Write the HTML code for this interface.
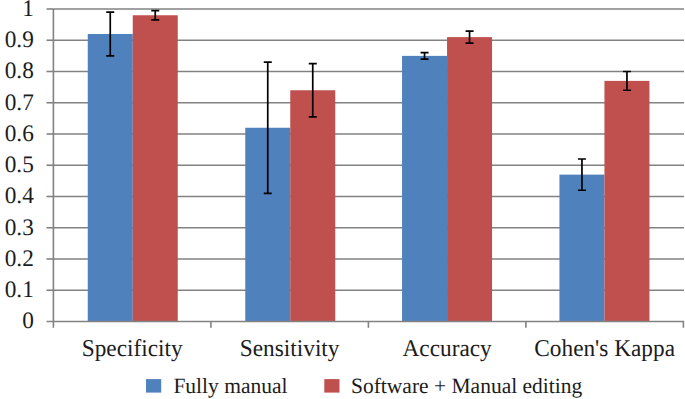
<!DOCTYPE html><html><head><meta charset="utf-8"><style>html,body{margin:0;padding:0;background:#fff}svg{display:block}text{font-family:"Liberation Serif",serif;fill:#1c1c1c;text-rendering:geometricPrecision}</style></head><body>
<svg width="685" height="399" viewBox="0 0 685 399">
<rect width="685" height="399" fill="#fff"/>
<line x1="53.40" x2="684.00" y1="290.25" y2="290.25" stroke="#828282" stroke-width="1.6"/>
<line x1="53.40" x2="684.00" y1="259.00" y2="259.00" stroke="#828282" stroke-width="1.6"/>
<line x1="53.40" x2="684.00" y1="227.75" y2="227.75" stroke="#828282" stroke-width="1.6"/>
<line x1="53.40" x2="684.00" y1="196.50" y2="196.50" stroke="#828282" stroke-width="1.6"/>
<line x1="53.40" x2="684.00" y1="165.25" y2="165.25" stroke="#828282" stroke-width="1.6"/>
<line x1="53.40" x2="684.00" y1="134.00" y2="134.00" stroke="#828282" stroke-width="1.6"/>
<line x1="53.40" x2="684.00" y1="102.75" y2="102.75" stroke="#828282" stroke-width="1.6"/>
<line x1="53.40" x2="684.00" y1="71.50" y2="71.50" stroke="#828282" stroke-width="1.6"/>
<line x1="53.40" x2="684.00" y1="40.25" y2="40.25" stroke="#828282" stroke-width="1.6"/>
<line x1="53.40" x2="684.00" y1="9.00" y2="9.00" stroke="#828282" stroke-width="1.6"/>
<rect x="87.75" y="34.00" width="45.00" height="287.50" fill="#4F81BD"/>
<rect x="132.75" y="15.25" width="45.00" height="306.25" fill="#C0504D"/>
<rect x="245.25" y="127.75" width="45.00" height="193.75" fill="#4F81BD"/>
<rect x="290.25" y="90.25" width="45.00" height="231.25" fill="#C0504D"/>
<rect x="402.05" y="55.88" width="45.00" height="265.62" fill="#4F81BD"/>
<rect x="447.05" y="37.12" width="45.00" height="284.38" fill="#C0504D"/>
<rect x="559.45" y="174.62" width="45.00" height="146.88" fill="#4F81BD"/>
<rect x="604.45" y="80.88" width="45.00" height="240.62" fill="#C0504D"/>
<line x1="46.50" x2="684.00" y1="321.50" y2="321.50" stroke="#828282" stroke-width="1.6"/>
<line x1="53.40" x2="53.40" y1="9.00" y2="327.80" stroke="#828282" stroke-width="1.6"/>
<line x1="46.50" x2="53.40" y1="290.25" y2="290.25" stroke="#828282" stroke-width="1.6"/>
<line x1="46.50" x2="53.40" y1="259.00" y2="259.00" stroke="#828282" stroke-width="1.6"/>
<line x1="46.50" x2="53.40" y1="227.75" y2="227.75" stroke="#828282" stroke-width="1.6"/>
<line x1="46.50" x2="53.40" y1="196.50" y2="196.50" stroke="#828282" stroke-width="1.6"/>
<line x1="46.50" x2="53.40" y1="165.25" y2="165.25" stroke="#828282" stroke-width="1.6"/>
<line x1="46.50" x2="53.40" y1="134.00" y2="134.00" stroke="#828282" stroke-width="1.6"/>
<line x1="46.50" x2="53.40" y1="102.75" y2="102.75" stroke="#828282" stroke-width="1.6"/>
<line x1="46.50" x2="53.40" y1="71.50" y2="71.50" stroke="#828282" stroke-width="1.6"/>
<line x1="46.50" x2="53.40" y1="40.25" y2="40.25" stroke="#828282" stroke-width="1.6"/>
<line x1="46.50" x2="53.40" y1="9.00" y2="9.00" stroke="#828282" stroke-width="1.6"/>
<line x1="210.90" x2="210.90" y1="321.50" y2="327.80" stroke="#828282" stroke-width="1.6"/>
<line x1="368.40" x2="368.40" y1="321.50" y2="327.80" stroke="#828282" stroke-width="1.6"/>
<line x1="525.90" x2="525.90" y1="321.50" y2="327.80" stroke="#828282" stroke-width="1.6"/>
<line x1="683.40" x2="683.40" y1="321.50" y2="327.80" stroke="#828282" stroke-width="1.6"/>
<path d="M110.25 12.12V55.88M106.25 12.12h8M106.25 55.88h8" stroke="#000" stroke-width="1.7" fill="none"/>
<path d="M155.25 10.56V19.94M151.25 10.56h8M151.25 19.94h8" stroke="#000" stroke-width="1.7" fill="none"/>
<path d="M267.75 62.12V193.38M263.75 62.12h8M263.75 193.38h8" stroke="#000" stroke-width="1.7" fill="none"/>
<path d="M312.75 63.69V116.81M308.75 63.69h8M308.75 116.81h8" stroke="#000" stroke-width="1.7" fill="none"/>
<path d="M424.55 52.59V59.16M420.55 52.59h8M420.55 59.16h8" stroke="#000" stroke-width="1.7" fill="none"/>
<path d="M469.55 31.03V43.22M465.55 31.03h8M465.55 43.22h8" stroke="#000" stroke-width="1.7" fill="none"/>
<path d="M581.95 159.00V190.25M577.95 159.00h8M577.95 190.25h8" stroke="#000" stroke-width="1.7" fill="none"/>
<path d="M626.95 71.50V90.25M622.95 71.50h8M622.95 90.25h8" stroke="#000" stroke-width="1.7" fill="none"/>
<text transform="translate(33.8 328.30) scale(1 1.02)" font-size="23.3" text-anchor="end">0</text>
<text transform="translate(33.8 297.05) scale(1 1.02)" font-size="23.3" text-anchor="end">0.1</text>
<text transform="translate(33.8 265.80) scale(1 1.02)" font-size="23.3" text-anchor="end">0.2</text>
<text transform="translate(33.8 234.55) scale(1 1.02)" font-size="23.3" text-anchor="end">0.3</text>
<text transform="translate(33.8 203.30) scale(1 1.02)" font-size="23.3" text-anchor="end">0.4</text>
<text transform="translate(33.8 172.05) scale(1 1.02)" font-size="23.3" text-anchor="end">0.5</text>
<text transform="translate(33.8 140.80) scale(1 1.02)" font-size="23.3" text-anchor="end">0.6</text>
<text transform="translate(33.8 109.55) scale(1 1.02)" font-size="23.3" text-anchor="end">0.7</text>
<text transform="translate(33.8 78.30) scale(1 1.02)" font-size="23.3" text-anchor="end">0.8</text>
<text transform="translate(33.8 47.05) scale(1 1.02)" font-size="23.3" text-anchor="end">0.9</text>
<text transform="translate(33.8 15.80) scale(1 1.02)" font-size="23.3" text-anchor="end">1</text>
<text transform="translate(132.15 355.7) scale(1 1.03)" font-size="23.3" text-anchor="middle">Specificity</text>
<text transform="translate(289.65 355.7) scale(1 1.03)" font-size="23.3" text-anchor="middle">Sensitivity</text>
<text transform="translate(447.15 355.7) scale(1 1.03)" font-size="23.3" text-anchor="middle">Accuracy</text>
<text transform="translate(604.65 355.7) scale(1 1.03)" font-size="23.3" text-anchor="middle">Cohen's Kappa</text>
<rect x="146" y="379.1" width="15.2" height="13.5" fill="#4F81BD"/>
<text transform="translate(173.4 393.1) scale(1 1.012)" font-size="21.5">Fully manual</text>
<rect x="324.3" y="379.1" width="15.2" height="13.5" fill="#C0504D"/>
<text transform="translate(351.0 393.1) scale(1 1.012)" font-size="21.5">Software + Manual editing</text>
</svg></body></html>
